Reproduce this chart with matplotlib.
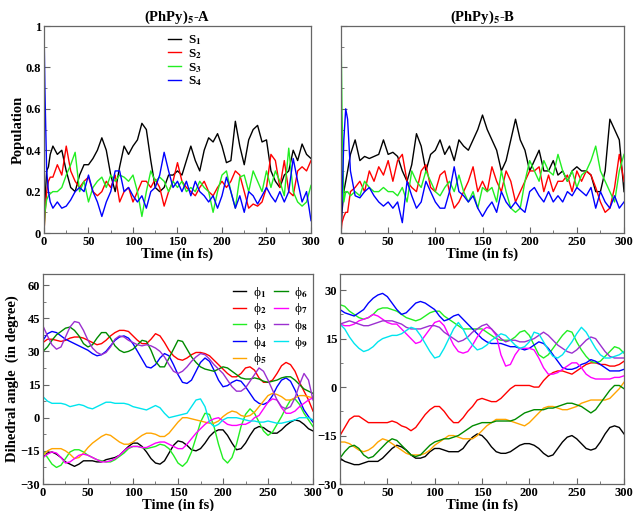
import numpy as np
import matplotlib
matplotlib.use('Agg')
from matplotlib import pyplot as plt
from matplotlib.ticker import MultipleLocator

plt.rcParams['font.family'] = ['Liberation Serif', 'DejaVu Serif']
plt.rcParams['font.weight'] = 'bold'
plt.rcParams['mathtext.fontset'] = 'stix'

# time grid of the population panels (fs)
t_pop = [0, 1, 3, 5, 7] + list(range(10, 301, 5))

# (PhPy)5-A populations
s1_a = [0, 0.15, 0.30, 0.32, 0.38,
        0.42, 0.38, 0.40, 0.30, 0.22, 0.20, 0.28, 0.33, 0.33, 0.36,
        0.40, 0.46, 0.40, 0.28, 0.20, 0.32, 0.42, 0.38, 0.42, 0.45,
        0.53, 0.50, 0.35, 0.22, 0.20, 0.22, 0.28, 0.28, 0.30, 0.28,
        0.35, 0.42, 0.35, 0.30, 0.40, 0.46, 0.44, 0.48, 0.42, 0.34,
        0.35, 0.54, 0.42, 0.33, 0.45, 0.50, 0.52, 0.44, 0.45, 0.30,
        0.25, 0.22, 0.28, 0.30, 0.40, 0.35, 0.43, 0.38, 0.36]
s2_a = [0, 0.08, 0.20, 0.25, 0.27,
        0.27, 0.33, 0.28, 0.42, 0.30, 0.25, 0.22, 0.25, 0.27, 0.20,
        0.18, 0.20, 0.25, 0.22, 0.28, 0.15, 0.20, 0.22, 0.15, 0.20,
        0.25, 0.25, 0.22, 0.26, 0.22, 0.13, 0.20, 0.25, 0.34, 0.25,
        0.22, 0.20, 0.18, 0.22, 0.25, 0.20, 0.18, 0.22, 0.25, 0.22,
        0.25, 0.30, 0.28, 0.20, 0.12, 0.14, 0.13, 0.15, 0.22, 0.38,
        0.35, 0.22, 0.35, 0.20, 0.18, 0.30, 0.32, 0.30, 0.35]
s3_a = [0, 0.10, 0.16, 0.18, 0.19,
        0.20, 0.20, 0.22, 0.28, 0.33, 0.39, 0.20, 0.25, 0.15, 0.22,
        0.25, 0.27, 0.22, 0.28, 0.25, 0.28, 0.27, 0.25, 0.28, 0.20,
        0.08, 0.20, 0.30, 0.25, 0.27, 0.25, 0.20, 0.25, 0.22, 0.25,
        0.20, 0.22, 0.20, 0.25, 0.22, 0.20, 0.10, 0.20, 0.28, 0.30,
        0.20, 0.12, 0.27, 0.28, 0.20, 0.30, 0.25, 0.20, 0.30, 0.22,
        0.30, 0.25, 0.18, 0.41, 0.20, 0.15, 0.13, 0.15, 0.23]
s4_a = [1.0, 0.70, 0.30, 0.20, 0.15,
        0.12, 0.15, 0.12, 0.13, 0.16, 0.20, 0.22, 0.20, 0.28, 0.20,
        0.15, 0.08, 0.15, 0.20, 0.30, 0.30, 0.20, 0.22, 0.18, 0.15,
        0.18, 0.12, 0.20, 0.22, 0.28, 0.39, 0.30, 0.22, 0.25, 0.20,
        0.25, 0.18, 0.25, 0.20, 0.18, 0.15, 0.18, 0.12, 0.18, 0.27,
        0.20, 0.12, 0.18, 0.10, 0.20, 0.18, 0.14, 0.18, 0.22, 0.18,
        0.15, 0.20, 0.15, 0.20, 0.36, 0.25, 0.15, 0.20, 0.06]

# (PhPy)5-B populations
s1_b = [0, 0.10, 0.20, 0.25, 0.30,
        0.38, 0.45, 0.35, 0.37, 0.36, 0.37, 0.38, 0.45, 0.38, 0.39,
        0.37, 0.30, 0.25, 0.33, 0.48, 0.42, 0.30, 0.38, 0.40, 0.45,
        0.38, 0.42, 0.35, 0.45, 0.42, 0.40, 0.45, 0.50, 0.57, 0.50,
        0.45, 0.40, 0.30, 0.35, 0.45, 0.55, 0.45, 0.40, 0.30, 0.35,
        0.40, 0.30, 0.30, 0.35, 0.28, 0.30, 0.25, 0.30, 0.32, 0.30,
        0.30, 0.28, 0.20, 0.20, 0.30, 0.55, 0.50, 0.45, 0.20]
s2_b = [0, 0.05, 0.08, 0.10, 0.10,
        0.20, 0.22, 0.25, 0.20, 0.30, 0.25, 0.32, 0.28, 0.35, 0.25,
        0.35, 0.38, 0.25, 0.22, 0.20, 0.30, 0.33, 0.22, 0.20, 0.28,
        0.30, 0.20, 0.12, 0.15, 0.20, 0.25, 0.32, 0.20, 0.25, 0.20,
        0.32, 0.25, 0.20, 0.30, 0.25, 0.15, 0.20, 0.25, 0.30, 0.30,
        0.32, 0.20, 0.28, 0.20, 0.25, 0.25, 0.28, 0.20, 0.30, 0.25,
        0.30, 0.28, 0.22, 0.15, 0.10, 0.12, 0.22, 0.38, 0.25]
s3_b = [1.0, 0.60, 0.15, 0.20, 0.20,
        0.18, 0.20, 0.18, 0.25, 0.22, 0.20, 0.20, 0.22, 0.20, 0.20,
        0.18, 0.22, 0.15, 0.30, 0.25, 0.22, 0.30, 0.25, 0.20, 0.18,
        0.22, 0.25, 0.20, 0.28, 0.20, 0.15, 0.20, 0.12, 0.22, 0.20,
        0.22, 0.15, 0.30, 0.20, 0.12, 0.10, 0.12, 0.25, 0.35, 0.30,
        0.25, 0.35, 0.30, 0.28, 0.38, 0.30, 0.25, 0.30, 0.22, 0.28,
        0.30, 0.35, 0.42, 0.30, 0.25, 0.20, 0.15, 0.30, 0.38]
s4_b = [0, 0.15, 0.45, 0.60, 0.55,
        0.30, 0.18, 0.17, 0.20, 0.22, 0.18, 0.15, 0.13, 0.15, 0.12,
        0.15, 0.05, 0.25, 0.18, 0.12, 0.15, 0.25, 0.20, 0.15, 0.12,
        0.12, 0.20, 0.32, 0.20, 0.18, 0.15, 0.18, 0.12, 0.08, 0.12,
        0.15, 0.10, 0.20, 0.15, 0.12, 0.15, 0.12, 0.10, 0.20, 0.22,
        0.18, 0.15, 0.20, 0.15, 0.18, 0.15, 0.20, 0.18, 0.22, 0.20,
        0.18, 0.22, 0.12, 0.20, 0.15, 0.12, 0.18, 0.12, 0.15]

# time grid of the dihedral panels (fs)
t_ang = list(range(0, 301, 5))

# (PhPy)5-A dihedral angles (degree)
phi1_a = [-18, -16, -15.5, -16.5, -18, -20, -21, -22, -21, -19.5,
          -19.5, -19.5, -20, -20, -19, -18.5, -18, -17, -15, -13,
          -11.5, -11.5, -13, -15.5, -18.5, -20.5, -21, -19.5, -16, -12.5,
          -10.5, -11, -12.5, -14.5, -15, -14, -11.5, -8.5, -6.5, -5.5,
          -5.5, -8, -11.5, -14.5, -14, -11.5, -8, -5, -4, -4.5,
          -6, -7, -7, -5.5, -3.5, -2, -1, -1.5, -3, -5,
          -6]
phi2_a = [34, 35.5, 35.5, 35, 34.5, 35, 36, 36.5, 36.5, 36,
          35, 34, 33, 33.5, 35, 37, 38.5, 39.5, 39.5, 39,
          37, 35, 33.5, 33.5, 35.5, 38, 37, 34, 30.5, 28,
          26.5, 26, 27, 28.5, 29.5, 29.5, 29, 28, 26, 24,
          22, 20, 18.5, 18.5, 20, 22.5, 23, 21.5, 18, 16,
          16, 17, 20, 23.5, 25, 24, 21, 16, 12, 8,
          3]
phi3_a = [-15, -18, -21, -22.5, -21.5, -18.5, -15.5, -14.5, -14.5, -15.5,
          -17, -18, -19, -19.5, -20, -20, -19, -17.5, -16, -14,
          -13, -13, -13.5, -14, -13.5, -13, -12, -12.5, -14, -17,
          -20.5, -22, -20, -15.5, -9, -2, 2, 1.5, -4, -12,
          -18.5, -20.5, -18, -12, -4, 1.5, 4, 2, -2, -6,
          -8, -6.5, -3, 0.5, 4.5, 8, 8.5, 6, 2, -1,
          -4]
phi4_a = [35, 38, 39, 38.5, 37, 35.5, 34.5, 33.5, 32.5, 31.5,
          30.5, 29, 28, 28.5, 30, 32.5, 35, 36.5, 37, 36,
          33.5, 30, 26.5, 23, 22.5, 24, 27, 29, 28, 24,
          19.5, 16, 15.5, 17, 21, 25, 27, 25.5, 21.5, 17,
          14, 14.5, 16, 17, 16.5, 14, 11, 8, 6.5, 6,
          7, 10, 14, 17, 18, 16.5, 12.5, 8, 3.5, 0.5,
          -2]
phi5_a = [-17, -15, -14, -14, -14, -15, -16.5, -18.5, -18, -16,
          -13.5, -11.5, -10, -8.5, -7.5, -8, -9.5, -11, -12, -12,
          -11, -9.5, -8, -7, -7, -7.5, -8.5, -8.5, -7, -4.5,
          -2, 0, 0, -0.5, -1, -1.5, -2, -2.5, -2.5, -1.5,
          0.5, 2, 3, 2.5, 1, 0.5, 1, 2.5, 5, 7.5,
          10, 11, 10.5, 9.5, 8, 8, 9, 10, 10, 9.5,
          9]
phi6_a = [30, 32, 35, 37.5, 39, 40.5, 41, 39.5, 37, 33.5,
          32, 33, 36, 38.5, 38.5, 36, 32.5, 30.5, 29.5, 30,
          31, 33, 35, 34.5, 30.5, 25.5, 23, 23, 27, 31,
          35, 34.5, 31, 27.5, 25, 23, 22, 21.5, 21, 22,
          23, 22.5, 21, 19.5, 18, 17.5, 17.5, 18, 17.5, 16.5,
          16, 16.5, 17, 18, 18.5, 18.5, 17, 15, 13, 12,
          11]
phi7_a = [-18, -16.5, -15.5, -16, -18, -20.5, -20, -18.5, -17, -16.5,
          -17, -18, -19, -20, -20, -19.5, -18.5, -17, -15, -13.5,
          -13, -13, -13.5, -13.5, -12.5, -11.5, -11, -11, -12, -13,
          -14, -14, -12, -9.5, -7, -5, -3, -1.5, -0.5, 0,
          -1.5, -3, -3.5, -3.5, -3, -3, -2, 0, 1, 4,
          7, 8.5, 8, 4.5, 2, 2, 3, 5, 6.5, 8,
          9]
phi8_a = [41.5, 37, 33, 31, 32, 36.5, 41, 43.5, 43, 39.5,
          35, 31.5, 29.5, 28.5, 29.5, 32, 35.5, 37, 36.5, 35,
          34, 33, 32.5, 33, 32.5, 31.5, 30, 27.5, 24, 21,
          20, 21, 23, 25.5, 27.5, 29, 28.5, 26.5, 24, 22,
          20, 17, 14, 12, 12, 13.5, 16.5, 19.5, 22.5, 21,
          17, 12.5, 8, 5, 4, 5, 9, 15, 20, 17,
          8]
phi9_a = [9.5, 7.5, 6.5, 6.5, 6.5, 6, 5, 5.5, 6, 5.5,
          4.5, 4, 5, 6, 7, 7, 6.5, 6.5, 6.5, 6,
          5, 4.5, 4, 3.5, 4.5, 5.5, 4.5, 2, 0, 0.5,
          1, 1.5, 2, 5, 8, 8.5, 5, -2, -4, -3,
          -1, 0, 0, 0, -0.5, -1, -1.5, -1.5, -2, -2,
          -1.5, -2, -2.5, -2.5, -2, -1.5, -1, 0, 0, 0,
          -1]

# (PhPy)5-B dihedral angles (degree)
phi1_b = [-22, -23, -23.5, -24, -24, -23.5, -23, -23, -23, -22,
          -20.5, -19, -18, -18.5, -19.5, -21, -22, -22, -21.5, -20,
          -19, -19, -19.5, -20, -20, -20, -19, -17, -15.5, -14.5,
          -15, -16.5, -18.5, -20, -20.5, -20.5, -20, -19, -18, -17.5,
          -17.5, -18, -19, -20.5, -21.5, -21, -19, -17, -15.5, -15,
          -16, -17.5, -19, -19.5, -19, -17, -14.5, -12.5, -12, -12.5,
          -14.5]
phi2_b = [-15, -12.5, -10, -9, -9, -10, -11, -11, -11, -11,
          -11, -10.5, -11, -12, -12.5, -13.5, -12.5, -10.5, -8.5, -7,
          -6, -6, -7.5, -9.5, -11, -11, -9.5, -7.5, -6, -4,
          -3.5, -4, -4.5, -4.5, -3.5, -2, -0.5, 0.5, 0.5, 0.5,
          0.5, 0, 0, 2, 3.5, 4.5, 5, 5, 4.5, 4,
          5, 6, 7, 7.5, 7.5, 7, 7, 6.5, 6.5, 7,
          8]
phi3_b = [25.5, 25, 23.5, 22.5, 21.5, 21, 21.5, 22.5, 24, 24.5,
          24.5, 24, 23.5, 22.5, 21.5, 21, 20.5, 21, 22, 23,
          23.5, 23.5, 22, 21, 20, 19, 18, 18, 18, 18,
          18, 17, 16, 15, 14.5, 14.5, 14.5, 15.5, 17, 17.5,
          16, 13, 10, 9, 10, 12, 14, 16, 17.5, 17,
          14, 11.5, 9.5, 8, 7.5, 8, 9.5, 11, 12.5, 12,
          10.5]
phi4_b = [24, 23, 22.5, 22, 23, 24, 26, 27.5, 28.5, 29,
          28, 26, 24, 22.5, 23, 24.5, 26, 26.5, 26, 25,
          24, 22, 20.5, 21, 22, 22.5, 21, 19.5, 18, 16.5,
          15, 14, 13.5, 13.5, 13.5, 13, 12.5, 12.5, 12, 11.5,
          12, 13, 14, 13.5, 12, 10, 8, 6, 5.5, 5.5,
          6, 7, 7.5, 8.5, 8, 7, 6, 5, 5, 5,
          5.5]
phi5_b = [-17, -17, -17.5, -18.5, -19.5, -20, -19.5, -18.5, -17, -16,
          -16.5, -17.5, -18.5, -19.5, -20.5, -21, -21, -21, -20.5, -19.5,
          -18, -17, -16, -15, -15, -15.5, -16, -16, -16, -15,
          -13.5, -12, -11, -10, -10, -10, -10.5, -11, -11.5, -12,
          -11, -9.5, -8, -6.5, -6, -6, -6.5, -7, -7, -6.5,
          -6, -5, -4.5, -4, -4, -4, -4, -3.5, -2, -0.5,
          1.5]
phi6_b = [-22, -20, -18.5, -18, -19, -21, -22, -21.5, -20, -18.5,
          -17, -16, -16.5, -18, -19.5, -21, -21.5, -21, -19.5, -18,
          -17, -16.5, -16, -16, -15.5, -15, -14, -13, -12, -11.5,
          -11, -11, -11, -10.5, -10.5, -10.5, -10.5, -10, -9, -8,
          -7.5, -7, -7, -7, -6.5, -6.5, -6, -5.5, -5, -5,
          -5.5, -6, -7, -8, -7, -5, -3, -1, 0.5, 0.5,
          -0.5]
phi7_b = [19.5, 19, 19, 19.5, 20.5, 21, 21.5, 22.5, 22, 21,
          20, 19.5, 19.5, 18, 16.5, 15, 13.5, 14, 16, 18,
          20, 20.5, 19, 16, 13, 11, 10.5, 11, 13, 15.5,
          17.5, 18.5, 18, 16, 10, 6.5, 7, 10, 12, 12,
          12, 11.5, 9, 6, 4, 4, 4.5, 5.5, 6.5, 7.5,
          7.5, 6, 4, 3, 2.5, 2.5, 2.5, 2.5, 3, 3,
          3.5]
phi8_b = [19.5, 20, 20.5, 20, 19.5, 19, 19, 19.5, 20, 20.5,
          20.5, 20.5, 20, 19.5, 18.5, 18, 18, 18, 18.5, 19,
          19, 18.5, 17, 16, 15, 14, 14.5, 15.5, 17, 18,
          19, 19.5, 18, 16.5, 15, 14, 14.5, 14.5, 14, 14,
          14.5, 15, 16, 17, 16, 14.5, 13, 12, 11, 10.5,
          11.5, 13, 14.5, 15.5, 15, 13, 11, 9.5, 9, 9,
          9]
phi9_b = [19.5, 18, 15.5, 13.5, 12, 11, 11.5, 12.5, 14, 15,
          15.5, 16, 16, 16.5, 17.5, 18.5, 18, 16, 13.5, 11,
          9, 9.5, 12, 15, 18, 20, 18, 15, 13, 11.5,
          12, 13, 14.5, 15.5, 16.5, 16, 14.5, 13, 12, 12.5,
          14, 17, 16.5, 14, 11.5, 9.5, 9, 10, 12, 14,
          16.5, 18.5, 17, 14.5, 12, 10, 9, 9, 9.5, 10,
          11]

pop_labels = ['S$_\\mathbf{1}$', 'S$_\\mathbf{2}$', 'S$_\\mathbf{3}$', 'S$_\\mathbf{4}$']
pop_colors = ['black', '#ff0000', '#22ee22', '#0000ff']
ang_labels = ['\u03d5$_{%d}$' % i for i in range(1, 10)]
ang_colors = ['black', '#ff0000', '#22ee22', '#0000ff', '#ffa500',
              '#008b00', '#ff00ff', '#9b30d0', '#00e5ee']

fig = plt.figure(figsize=(6.33, 5.11), dpi=100)
ax_tl = fig.add_axes([0.0695, 0.544, 0.4218, 0.405])
ax_tr = fig.add_axes([0.5387, 0.544, 0.4471, 0.405])
ax_bl = fig.add_axes([0.0679, 0.0528, 0.4266, 0.411])
ax_br = fig.add_axes([0.5371, 0.0528, 0.4487, 0.411])


def style(ax):
    for s in ax.spines.values():
        s.set_color('#666666')
        s.set_linewidth(0.9)
    ax.tick_params(which='both', direction='in', top=False, right=False,
                   color='#666666', labelsize=9, pad=2)
    ax.tick_params(which='major', length=4)
    ax.tick_params(which='minor', length=2)
    ax.set_xlim(0, 300)
    ax.xaxis.set_major_locator(MultipleLocator(50))
    ax.xaxis.set_minor_locator(MultipleLocator(25))
    ax.set_xlabel('Time (in fs)', fontsize=10.5, fontweight='bold', labelpad=0)


for ax, series in [(ax_tl, [s1_a, s2_a, s3_a, s4_a]),
                   (ax_tr, [s1_b, s2_b, s3_b, s4_b])]:
    for y, c, lab in zip(series, pop_colors, pop_labels):
        ax.plot(t_pop, y, color=c, lw=1.0, label=lab)
    style(ax)
    ax.set_ylim(0, 1)
    ax.yaxis.set_major_locator(MultipleLocator(0.2))
    ax.yaxis.set_minor_locator(MultipleLocator(0.1))

ax_tl.set_yticks([0, 0.2, 0.4, 0.6, 0.8, 1.0])
ax_tl.set_yticklabels(['0', '0.2', '0.4', '0.6', '0.8', '1'])
ax_tr.set_yticklabels([])
ax_tl.set_ylabel('Population', fontsize=10.5, fontweight='bold', labelpad=1)
ax_tl.set_title(r'(PhPy)$_\mathbf{5}$-A', fontsize=10.5, fontweight='bold', pad=3)
ax_tr.set_title(r'(PhPy)$_\mathbf{5}$-B', fontsize=10.5, fontweight='bold', pad=3)
ax_tl.legend(loc='upper left', bbox_to_anchor=(0.43, 1.01), frameon=False,
             handlelength=1.0, handletextpad=0.5, labelspacing=0.0,
             borderaxespad=0.3, prop={'size': 9.5, 'weight': 'bold'})

angles_a = [phi1_a, phi2_a, phi3_a, phi4_a, phi5_a, phi6_a, phi7_a, phi8_a, phi9_a]
angles_b = [phi1_b, phi2_b, phi3_b, phi4_b, phi5_b, phi6_b, phi7_b, phi8_b, phi9_b]

for ax, series in [(ax_bl, angles_a), (ax_br, angles_b)]:
    for y, c, lab in zip(series, ang_colors, ang_labels):
        ax.plot(t_ang, y, color=c, lw=1.0, label=lab)
    style(ax)
    ax.yaxis.set_major_locator(MultipleLocator(15))
    ax.yaxis.set_minor_locator(MultipleLocator(7.5))

ax_bl.set_ylim(-30, 65)
ax_br.set_ylim(-30, 35)
ax_bl.set_ylabel('Dihedral angle  (in degree)', fontsize=10.5, fontweight='bold', labelpad=1)
ax_bl.legend(loc='upper right', bbox_to_anchor=(1.02, 1.0), frameon=False, ncol=2,
             handlelength=1.0, handletextpad=0.5, labelspacing=0.05,
             columnspacing=0.6, borderaxespad=0.4,
             prop={'size': 9.5, 'weight': 'normal'})

fig.savefig('out.png', dpi=100)
